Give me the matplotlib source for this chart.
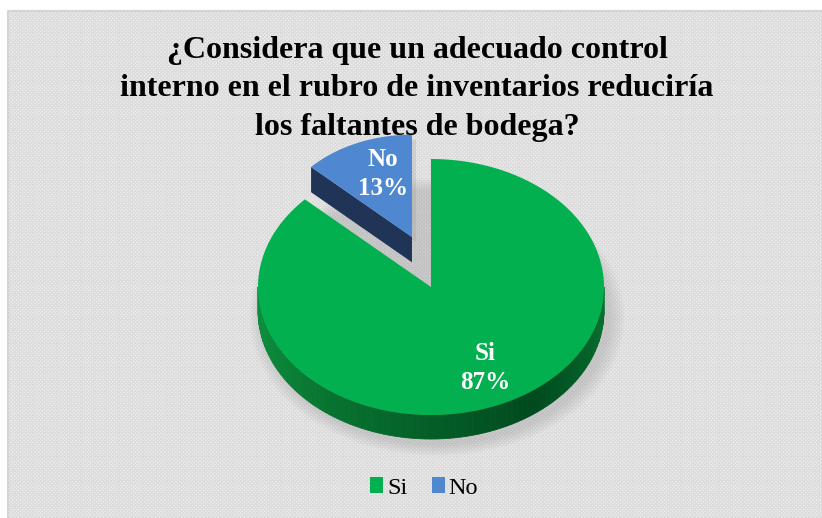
import numpy as np
import matplotlib
matplotlib.use("Agg")
import matplotlib.pyplot as plt
from matplotlib.patches import Polygon, Rectangle, Patch
from matplotlib.colors import to_rgb

# ---- data ----
categories = ["Si", "No"]
values = [87, 13]
labels_pct = ["87%", "13%"]
title = "¿Considera que un adecuado control\ninterno en el rubro de inventarios reduciría\nlos faltantes de bodega?"

top_colors = ["#03B050", "#4F87D0"]
side_colors = ["#0A7A34", "#1F3456"]

W, H = 822, 518
fig = plt.figure(figsize=(W / 100, H / 100), dpi=100)
ax = fig.add_axes([0, 0, 1, 1])
ax.set_xlim(0, W)
ax.set_ylim(H, 0)
ax.axis("off")

# background with texture
ax.add_patch(Rectangle((8, 11), W, H, facecolor="#f5f5f5", edgecolor="none", zorder=0))
ax.add_patch(Rectangle((8, 11), W, H, facecolor="none", edgecolor="#dcdcdc",
                       hatch="x" * 9, linewidth=0, zorder=0.1))
ax.plot([8, 8, W], [H, 11, 11], color="#d4d4d4", lw=1.5, zorder=0.2)

# ---- 3D pie geometry ----
cx, cy = 431, 287
rx, ry = 173, 128
depth = 24
explode_off = [(0.0, 0.0), (-0.11, -0.39)]  # fraction of radii
persp = [1.0, 0.8]

fracs = np.array(values, float) / np.sum(values)
starts = np.concatenate([[0], np.cumsum(fracs)[:-1]]) * 360
ends = np.cumsum(fracs) * 360


def pt(theta, s, ox, oy, dz=0.0):
    t = np.radians(theta)
    return (cx + ox + s * rx * np.sin(t), cy + oy - s * ry * np.cos(t) + dz)


def geom(i):
    s = persp[i]
    ox, oy = explode_off[i][0] * rx, explode_off[i][1] * ry
    return s, ox, oy


# shadow
for k in range(8):
    grow = 1 + 0.012 * k
    th = np.linspace(0, 360, 200)
    xs = cx + 6 + grow * rx * np.sin(np.radians(th))
    ys = cy + depth + 6 + grow * ry * np.cos(np.radians(th))
    ax.add_patch(Polygon(np.c_[xs, ys], closed=True, facecolor="#808080",
                         alpha=0.035, edgecolor="none", zorder=0.5))

# --- No slice (behind) ---
i = 1
s, ox, oy = geom(i)
d = depth * 1.05
th = np.linspace(starts[i], ends[i], 60)
tip = (cx + ox, cy + oy)
top = [tip] + [pt(t, s, ox, oy) for t in th]
sh = [(x + 4, y + 5) for x, y in top]
ax.add_patch(Polygon(sh, closed=True, facecolor="#9a9a9a", alpha=0.25, edgecolor="none", zorder=0.8))
e0 = pt(starts[i], s, ox, oy)
face = [tip, e0, (e0[0], e0[1] + d), (tip[0], tip[1] + d)]
ax.add_patch(Polygon(face, closed=True, facecolor=side_colors[i], edgecolor="none", zorder=1))
ax.add_patch(Polygon(top, closed=True, facecolor=top_colors[i], edgecolor="none", zorder=1.1))

# --- Si slice ---
i = 0
s, ox, oy = geom(i)
a0, a1 = max(starts[i], 90), min(ends[i], 270)
grad_ang = [90, 145, 180, 256, 270]
grad_col = ["#087632", "#004A1E", "#045E27", "#0C8C3C", "#0C8C3C"]
cols = np.array([to_rgb(c) for c in grad_col])
n = 90
edges = np.linspace(a0, a1, n + 1)
for a, b in zip(edges[:-1], edges[1:]):
    mid = 0.5 * (a + b)
    c = [np.interp(mid, grad_ang, cols[:, k]) for k in range(3)]
    tt = np.linspace(a, b, 4)
    upper = [pt(t, s, ox, oy) for t in tt]
    lower = [pt(t, s, ox, oy, depth) for t in tt[::-1]]
    ax.add_patch(Polygon(upper + lower, closed=True, facecolor=c, edgecolor=c,
                         lw=0.6, zorder=2))
th = np.linspace(starts[i], ends[i], 300)
top = [(cx + ox, cy + oy)] + [pt(t, s, ox, oy) for t in th]
ax.add_patch(Polygon(top, closed=True, facecolor=top_colors[i], edgecolor="none", zorder=3))

# ---- labels ----
lab_font = dict(family="Liberation Serif", weight="bold", color="white", fontsize=18,
                ha="center", va="center", linespacing=1.3)
ax.text(485, 368, f"{categories[0]}\n{labels_pct[0]}", zorder=5, **lab_font)
ax.text(383, 174, f"{categories[1]}\n{labels_pct[1]}", zorder=5, **lab_font)

# title
ax.text(417, 89, title, family="Liberation Serif", weight="bold", fontsize=23,
        ha="center", va="center", linespacing=1.42, zorder=5)

# legend
handles = [Patch(facecolor=top_colors[k], edgecolor="none") for k in range(2)]
leg = ax.legend(handles, categories, loc="center", bbox_to_anchor=(424 / W, 1 - 488 / H),
                ncol=2, frameon=False, prop=dict(family="Liberation Serif", size=17.5),
                handlelength=0.55, handleheight=0.6, handletextpad=0.15, columnspacing=1.0)

fig.savefig("out.png", dpi=100)
